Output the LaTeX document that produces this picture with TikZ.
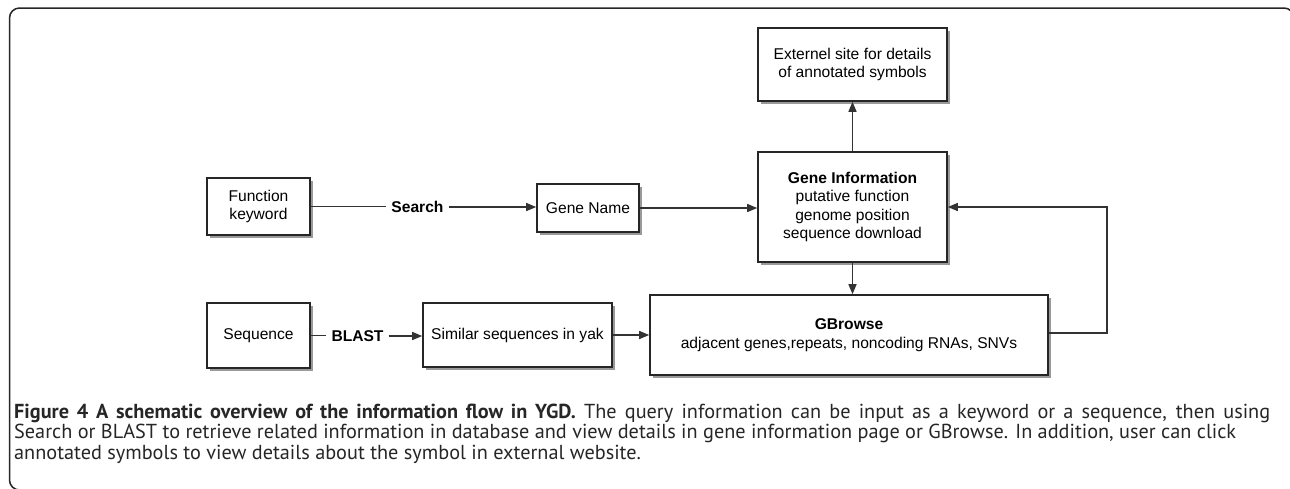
\documentclass[tikz,border=0pt]{standalone}
\usepackage{fontspec}
\setmainfont{Liberation Sans}
\newfontfamily\capfont{PT Sans}
\usetikzlibrary{shadows,arrows.meta}
\newlength\capwidth
\newcommand\caplineone{\textbf{Figure 4 A schematic overview of the information flow in YGD.} The query information can be input as a keyword or a sequence, then using}
\newcommand\caplinetwo{Search or BLAST to retrieve related information in database and view details in gene information page or GBrowse. In addition, user can click}
\AtBeginDocument{%
  \settowidth\capwidth{\capfont\fontsize{10}{12}\selectfont\caplinetwo}%
  \pgfmathsetmacro\capsize{10*1222/\capwidth}%
  \xdef\capsize{\capsize}}
\begin{document}
\begin{tikzpicture}[x=1pt,y=-1pt,
  box/.style={draw=black!85, line width=1.6pt, fill=white,
    drop shadow={shadow xshift=2.5pt, shadow yshift=-3pt, opacity=0.4, fill=black},
    inner sep=0pt, align=center, font=\fontsize{15.6}{18.5}\selectfont},
  conn/.style={draw=black!80, line width=1.4pt},
  arr/.style={conn, -{Triangle[length=10pt,width=8pt]}},
  lbl/.style={font=\fontsize{15.6}{18.5}\selectfont\bfseries, inner sep=5pt},
  captext/.style={anchor=base west, inner sep=0pt, text=black!85, font=\capfont\fontsize{\capsize}{20}\selectfont}]
\useasboundingbox (0,0) rectangle (1290,488);
\fill[white] (0,0) rectangle (1290,488);
% frame
\draw[line width=1.5pt, black!85, rounded corners=10pt] (60,490) -- (9.5,490) -- (9.5,8) -- (1294,8) -- (1294,60);
% boxes
\node[box, minimum width=103, minimum height=57] (fk) at (258.5,206.5) {Function\\keyword};
\node[box, minimum width=103, minimum height=65] (seq) at (258.5,335.5) {Sequence};
\node[box, minimum width=102, minimum height=48] (gn) at (588,208) {Gene Name};
\node[box, minimum width=189, minimum height=64] (sim) at (517.5,335) {Similar sequences in yak};
\node[box, minimum width=398, minimum height=80] (gb) at (849,335) {\textbf{GBrowse}\\adjacent genes,repeats, noncoding RNAs, SNVs};
\node[box, minimum width=189, minimum height=110] (gi) at (852.5,207) {\textbf{Gene Information}\\putative function\\genome position\\sequence download};
\node[box, minimum width=189, minimum height=73] (ext) at (852.5,64.5) {Externel site for details\\of annotated symbols};
% labels
\node[lbl] (search) at (417.5,207) {Search};
\node[lbl] (blast) at (357.5,336) {BLAST};
% connectors
\draw[conn] (fk.east) -- (fk.east -| search.west);
\draw[arr] (search.east) -- (search.east -| gn.west);
\draw[conn] (seq.east) -- (seq.east -| blast.west);
\draw[arr] (blast.east) -- (blast.east -| sim.west);
\draw[arr] (sim.east) -- (sim.east -| gb.west);
\draw[arr] (gn.east) -- (gn.east -| gi.west);
\draw[arr] (gi.north) -- (ext.south);
\draw[arr] (gi.south) -- (gi.south |- gb.north);
\draw[arr] ([yshift=2pt]gb.east) -- ++(58,0) |- (gi.east);
% caption
\node[captext] (cap1) at (14,418) {\makebox[1256pt][s]{\caplineone}};
\node[captext] (cap2) at (14,438.5) {\caplinetwo};
\node[captext] (cap3) at (14,459) {annotated symbols to view details about the symbol in external website.};
\end{tikzpicture}
\end{document}
